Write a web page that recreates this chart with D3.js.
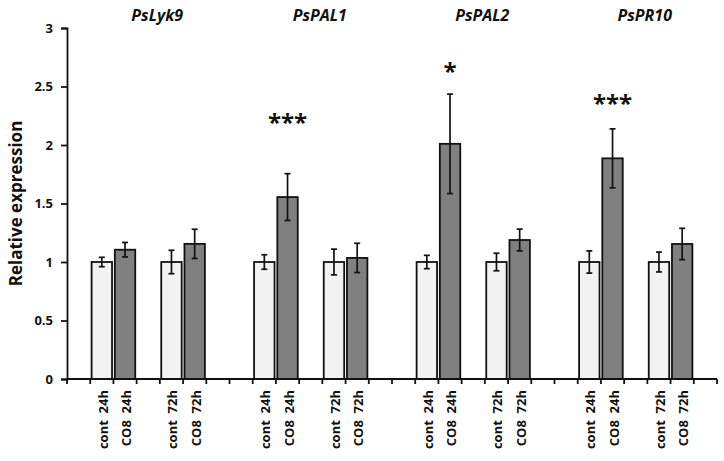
<!DOCTYPE html>
<html>
<head>
<meta charset="utf-8">
<script src="https://cdn.jsdelivr.net/npm/d3@7"></script>
<style>
  body { margin: 0; background: #fff; }
  svg { display: block; }
  text { font-family: "Open Sans", "DejaVu Sans", sans-serif; }
</style>
</head>
<body>
<svg id="chart" width="724" height="461"></svg>
<script>
// genes and conditions
const genes = ["PsLyk9", "PsPAL1", "PsPAL2", "PsPR10"]
const conditions = ["cont 24h", "CO8 24h", "cont 72h", "CO8 72h"]

// mean relative expression, one row per gene, in condition order
const means = [
    [1.00, 1.105, 1.00, 1.155],
    [1.00, 1.555, 1.00, 1.035],
    [1.00, 2.010, 1.00, 1.188],
    [1.00, 1.886, 1.00, 1.154]
]
// error bar half-lengths
const errors = [
    [0.040, 0.062, 0.100, 0.125],
    [0.062, 0.200, 0.110, 0.125],
    [0.057, 0.425, 0.075, 0.093],
    [0.095, 0.252, 0.085, 0.134]
]
// significance marks above the CO8 24h bars
const stars = ["", "***", "*", "***"]
const starLevels = [0, 2.214, 2.65, 2.376]

const yTicks = [0, 0.5, 1, 1.5, 2, 2.5, 3]

// category slots along the x axis (blank slots give Excel-like spacing)
let slots = []
let bars = []
genes.forEach(function (g, gi) {
    let lead = gi === 0 ? 1 : 2
    for (let k = 0; k < lead; k++) slots.push("gap" + gi + "a" + k)
    conditions.forEach(function (c, ci) {
        if (ci === 2) slots.push("gap" + gi + "m")
        let key = g + "|" + c
        slots.push(key)
        bars.push({ gene: g, gi: gi, cond: c, ci: ci, key: key, value: means[gi][ci], err: errors[gi][ci] })
    })
})
slots.push("gapEnd")

const svg = d3.select("#chart")
const plotLeft = 67, plotRight = 717, plotTop = 28, plotBottom = 379

let x = d3.scaleBand().domain(slots).range([plotLeft, plotRight]).paddingInner(0.12).paddingOuter(0.06)
let xStep = (plotRight - plotLeft) / slots.length
let y = d3.scaleLinear().domain([0, 3]).range([plotBottom, plotTop])

// bars
svg.append("g").selectAll("rect")
    .data(bars)
    .join("rect")
    .attr("x", d => x(d.key))
    .attr("y", d => y(d.value))
    .attr("width", x.bandwidth())
    .attr("height", d => y(0) - y(d.value))
    .attr("fill", d => d.ci % 2 === 0 ? "#f2f2f2" : "#808080")
    .attr("stroke", "#111")
    .attr("stroke-width", 1.8)

// error bars
let errG = svg.append("g").attr("stroke", "#111").attr("stroke-width", 1.7)
bars.forEach(function (d) {
    let cx = x(d.key) + x.bandwidth() / 2
    errG.append("line").attr("x1", cx).attr("x2", cx).attr("y1", y(d.value - d.err)).attr("y2", y(d.value + d.err))
    errG.append("line").attr("x1", cx - 3).attr("x2", cx + 3).attr("y1", y(d.value + d.err)).attr("y2", y(d.value + d.err))
    errG.append("line").attr("x1", cx - 3).attr("x2", cx + 3).attr("y1", y(d.value - d.err)).attr("y2", y(d.value - d.err))
})

// y axis
let yAxis = svg.append("g")
    .attr("transform", "translate(" + plotLeft + ",0)")
    .call(d3.axisLeft(y).tickValues(yTicks).tickSize(6).tickPadding(8).tickFormat(d3.format("")))
yAxis.select(".domain").attr("stroke", "#111").attr("stroke-width", 1.8)
yAxis.selectAll(".tick line").attr("stroke", "#111").attr("stroke-width", 1.8)
yAxis.selectAll(".tick text")
    .attr("font-size", 13).attr("font-weight", "bold").attr("fill", "#111")

// x axis line with ticks at slot boundaries
let xAxis = svg.append("g").attr("stroke", "#111").attr("stroke-width", 1.8)
xAxis.append("line").attr("x1", plotLeft).attr("x2", plotRight).attr("y1", plotBottom).attr("y2", plotBottom)
d3.range(slots.length + 1).forEach(function (i) {
    let tx = plotLeft + i * xStep
    xAxis.append("line").attr("x1", tx).attr("x2", tx).attr("y1", plotBottom).attr("y2", plotBottom + 5)
})

// rotated condition labels
svg.append("g").selectAll("text")
    .data(bars)
    .join("text")
    .attr("transform", d => "translate(" + (x(d.key) + x.bandwidth() / 2 + 6) + "," + (plotBottom + 11) + ") rotate(-90)")
    .attr("text-anchor", "end")
    .attr("font-size", 13)
    .attr("font-weight", "bold")
    .attr("fill", "#111")
    .style("white-space", "pre")
    .text(d => d.cond.replace(" ", "  "))

// gene titles
genes.forEach(function (g, gi) {
    let x0 = x(g + "|" + conditions[0])
    let x1 = x(g + "|" + conditions[3]) + x.bandwidth()
    svg.append("text")
        .attr("x", (x0 + x1) / 2 + 9)
        .attr("y", 21)
        .attr("text-anchor", "middle")
        .attr("font-size", 16)
        .attr("font-weight", "bold")
        .attr("font-style", "italic")
        .attr("fill", "#111")
        .text(g)
})

// significance stars
genes.forEach(function (g, gi) {
    if (!stars[gi]) return
    let cx = x(g + "|" + conditions[1]) + x.bandwidth() / 2
    svg.append("text")
        .attr("x", cx)
        .attr("y", y(starLevels[gi]) + 11)
        .attr("text-anchor", "middle")
        .attr("font-size", 24)
        .attr("font-weight", "bold")
        .attr("fill", "#111")
        .text(stars[gi])
})

// y axis title
svg.append("text")
    .attr("transform", "translate(22," + ((plotTop + plotBottom) / 2) + ") rotate(-90)")
    .attr("text-anchor", "middle")
    .attr("font-size", 17)
    .attr("font-weight", "bold")
    .attr("fill", "#111")
    .text("Relative expression")
</script>
</body>
</html>
